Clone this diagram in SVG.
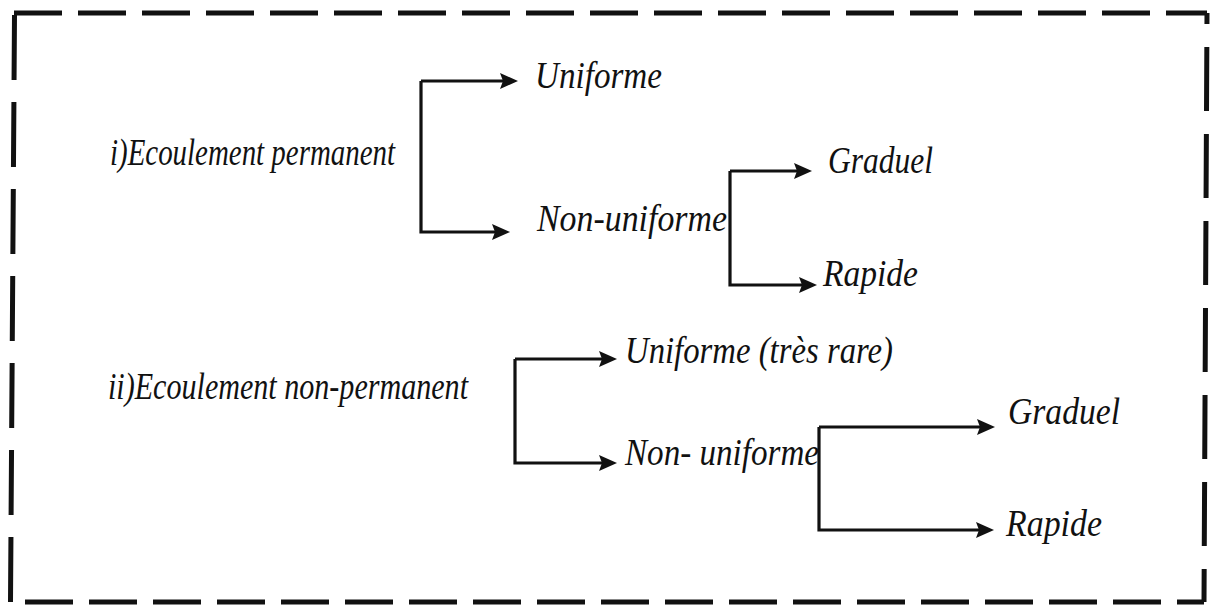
<svg xmlns="http://www.w3.org/2000/svg" width="1211" height="605" viewBox="0 0 1211 605">
<style>
.frame{stroke:#111;stroke-width:5;fill:none}
.conn{stroke:#111;stroke-width:3.2;fill:none;marker-end:url(#arr)}
.lbl{font-family:"Liberation Serif","Times New Roman",serif;font-style:italic;font-size:38px;fill:#111}
</style>
<defs>
<marker id="arr" markerUnits="userSpaceOnUse" markerWidth="18" markerHeight="16" refX="6" refY="8" orient="auto">
<path d="M0,0 L18,8 L0,16 L3,8 z" fill="#111"/>
</marker>
</defs>
<rect width="1211" height="605" fill="#fff"/>
<g id="frame">
<line class="frame" x1="14" y1="13" x2="1207" y2="13" stroke-dasharray="48 16"/>
<line class="frame" x1="1207" y1="13" x2="1204" y2="602" stroke-dasharray="64 23" stroke-dashoffset="53"/>
<line class="frame" x1="25" y1="602" x2="1204" y2="602" stroke-dasharray="48 16"/>
<line class="frame" x1="14.5" y1="15" x2="10.5" y2="602" stroke-dasharray="65 22"/>
</g>
<g id="connectors">
<path class="conn" d="M421,81 H506"/>
<path class="conn" d="M421,81 V232 H498"/>
<path class="conn" d="M730,171 H800"/>
<path class="conn" d="M730,171 V285 H805"/>
<path class="conn" d="M515,359 H605"/>
<path class="conn" d="M515,359 V463 H605"/>
<path class="conn" d="M819,427 H983"/>
<path class="conn" d="M819,427 V530 H982"/>
</g>
<g id="n1"><text class="lbl" x="110" y="165" textLength="285" lengthAdjust="spacingAndGlyphs">i)Ecoulement permanent</text></g>
<g id="n2"><text class="lbl" x="535" y="88" textLength="127" lengthAdjust="spacingAndGlyphs">Uniforme</text></g>
<g id="n3"><text class="lbl" x="537" y="231" textLength="190" lengthAdjust="spacingAndGlyphs">Non-uniforme</text></g>
<g id="n4"><text class="lbl" x="828" y="173" textLength="105" lengthAdjust="spacingAndGlyphs">Graduel</text></g>
<g id="n5"><text class="lbl" x="823" y="286" textLength="95" lengthAdjust="spacingAndGlyphs">Rapide</text></g>
<g id="n6"><text class="lbl" x="108" y="399" textLength="360" lengthAdjust="spacingAndGlyphs">ii)Ecoulement non-permanent</text></g>
<g id="n7"><text class="lbl" x="625" y="363" textLength="268" lengthAdjust="spacingAndGlyphs">Uniforme (très rare)</text></g>
<g id="n8"><text class="lbl" x="625" y="465" textLength="194" lengthAdjust="spacingAndGlyphs">Non- uniforme</text></g>
<g id="n9"><text class="lbl" x="1008" y="424" textLength="112" lengthAdjust="spacingAndGlyphs">Graduel</text></g>
<g id="n10"><text class="lbl" x="1006" y="536" textLength="96" lengthAdjust="spacingAndGlyphs">Rapide</text></g>
</svg>
